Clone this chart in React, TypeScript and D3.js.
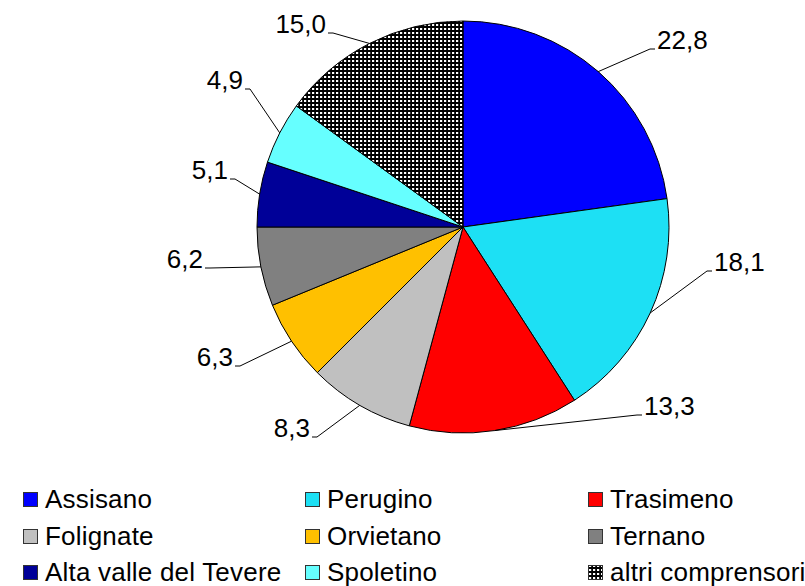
import React from "react";
import * as d3 from "d3";

// Share by district (percent)
const categories = [
  "Assisano",
  "Perugino",
  "Trasimeno",
  "Folignate",
  "Orvietano",
  "Ternano",
  "Alta valle del Tevere",
  "Spoletino",
  "altri comprensori",
];
const values = [22.8, 18.1, 13.3, 8.3, 6.3, 6.2, 5.1, 4.9, 15.0];
const colors = [
  "#0000FF",
  "#1DE0F4",
  "#FF0000",
  "#C0C0C0",
  "#FFC000",
  "#808080",
  "#000098",
  "#66FFFF",
  "url(#dots)",
];

// Where each leader line bends before reaching its label
const labelElbows: [number, number][] = [
  [650, 49],
  [707, 271],
  [637, 415],
  [317, 437],
  [240, 366],
  [210, 268],
  [235, 179],
  [250, 89],
  [333, 33],
];

const W = 805;
const H = 586;
const cx = 463;
const cy = 227;
const R = 206;

const fmt = (v: number) => v.toFixed(1).replace(".", ",");

export default function App() {
  const pie = d3
    .pie<number>()
    .sort(null)
    .value((d) => d)
    .startAngle(0)
    .endAngle(2 * Math.PI);
  const arcs = pie(values);
  const arc = d3.arc<d3.PieArcDatum<number>>().innerRadius(0).outerRadius(R);

  const legendCols = [23, 305, 588];
  const legendRows = [500, 537, 573];

  return (
    <svg
      width={W}
      height={H}
      style={{ position: "absolute", left: 0, top: 0, background: "#fff" }}
      fontFamily="'Liberation Sans', Arial, sans-serif"
    >
      <defs>
        <pattern id="dots" width={4} height={4} patternUnits="userSpaceOnUse">
          <rect width={4} height={4} fill="#000" />
          <rect x={1} y={1} width={2.2} height={2} fill="#fff" />
        </pattern>
      </defs>

      <g transform={`translate(${cx},${cy})`}>
        {arcs.map((a, i) => (
          <path
            key={i}
            d={arc(a) || ""}
            fill={colors[i]}
            stroke="#000"
            strokeWidth={1}
          />
        ))}
      </g>

      {arcs.map((a, i) => {
        const mid = (a.startAngle + a.endAngle) / 2;
        const ex = cx + R * Math.sin(mid);
        const ey = cy - R * Math.cos(mid);
        const [bx, by] = labelElbows[i];
        const right = bx > cx;
        const hx = right ? bx + 5 : bx - 5;
        const tx = right ? bx + 7 : bx - 7;
        return (
          <g key={i}>
            <polyline
              points={`${ex},${ey} ${bx},${by} ${hx},${by}`}
              fill="none"
              stroke="#000"
              strokeWidth={1}
            />
            <text
              x={tx}
              y={by}
              fontSize={26}
              textAnchor={right ? "start" : "end"}
              fill="#000"
            >
              {fmt(values[i])}
            </text>
          </g>
        );
      })}

      {categories.map((c, i) => {
        const col = i % 3;
        const row = Math.floor(i / 3);
        const x = legendCols[col];
        const y = legendRows[row];
        return (
          <g key={c}>
            <rect
              x={x + 0.5}
              y={y - 7.5}
              width={14}
              height={14}
              fill={colors[i]}
              stroke="#333"
              strokeWidth={1}
            />
            <text
              x={x + 22}
              y={y + 8}
              fontSize={26}
              letterSpacing={0.2}
              fill="#000"
            >
              {c}
            </text>
          </g>
        );
      })}
    </svg>
  );
}
